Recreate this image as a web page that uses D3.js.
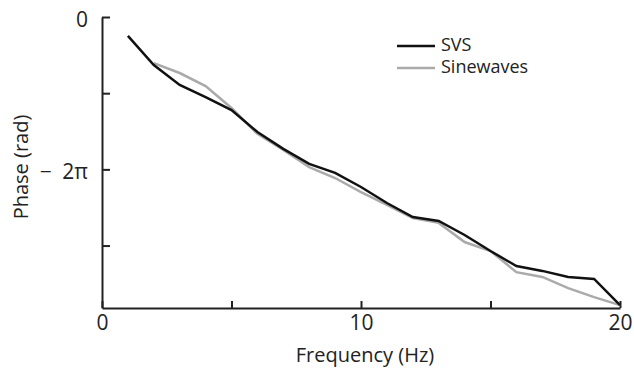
<!DOCTYPE html>
<html>
<head>
<meta charset="UTF-8">
<title>Phase vs frequency</title>
<style>
  body { margin: 0; background: #fff; }
  text { font-family: "Open Sans", "Noto Sans", sans-serif; fill: #222; }
</style>
</head>
<body>
<script src="https://cdnjs.cloudflare.com/ajax/libs/d3/7.8.5/d3.min.js"></script>
<script>
// data (phase in rad)
var freq = [1,2,3,4,5,6,7,8,9,10,11,12,13,14,15,16,17,18,19,20];
var svs = [-0.78,-1.98,-2.80,-3.30,-3.84,-4.74,-5.44,-6.06,-6.43,-7.01,
           -7.67,-8.25,-8.41,-8.99,-9.65,-10.27,-10.47,-10.72,-10.80,-11.88];
var sineFreq = [2,3,4,5,6,7,8,9,10,11,12,13,14,15,16,17,18,19,20];
var sine = [-1.90,-2.31,-2.85,-3.75,-4.82,-5.48,-6.19,-6.64,-7.22,-7.75,
            -8.29,-8.49,-9.28,-9.65,-10.52,-10.72,-11.18,-11.55,-11.88];
var xTicks = [0,5,10,15,20];
var xLabels = {0:"0", 10:"10", 20:"20"};
var yTicks = [0,-Math.PI,-2*Math.PI,-3*Math.PI];
var yLabels = ["0", "", "\u2212\u20022\u03c0", ""];

var W = 634, H = 370;
var svg = d3.select("body").append("svg").attr("width", W).attr("height", H);

var x = d3.scaleLinear().domain([0,20]).range([102,620]);
var y = d3.scaleLinear().domain([-12,0]).range([308,17]);

//axes, ticks pointing inward
var xAxis = svg.append("g").attr("transform", "translate(0," + y(-12) + ")")
  .call(d3.axisBottom(x).tickValues(xTicks).tickSizeInner(-7).tickSizeOuter(0)
    .tickFormat(d => xLabels[d] || ""));
var yAxis = svg.append("g").attr("transform", "translate(" + x(0) + ",0)")
  .call(d3.axisLeft(y).tickValues(yTicks).tickSizeInner(-8).tickSizeOuter(0)
    .tickFormat((d,i) => yLabels[i]));

[xAxis, yAxis].forEach(g => {
  g.attr("font-size", 21);
  g.select(".domain").attr("stroke", "#222").attr("stroke-width", 2);
  g.selectAll(".tick line").attr("stroke", "#222").attr("stroke-width", 2);
  g.selectAll(".tick text").attr("fill", "#222")
    .style("font-family", "'Open Sans', sans-serif");
});
xAxis.selectAll(".tick text").attr("y", 22).attr("dy", 0);
yAxis.selectAll(".tick text").attr("x", -14).attr("dy", "0.45em");

//lines
var line = d3.line().x(d => x(d[0])).y(d => y(d[1]));
svg.append("path").datum(sineFreq.map((f,i) => [f, sine[i]]))
  .attr("d", line).attr("fill", "none").attr("stroke", "#aaa").attr("stroke-width", 2.5);
svg.append("path").datum(freq.map((f,i) => [f, svs[i]]))
  .attr("d", line).attr("fill", "none").attr("stroke", "#111").attr("stroke-width", 2.5);

//axis titles
svg.append("text").attr("x", 365).attr("y", 362).attr("text-anchor", "middle")
  .attr("font-size", 20).text("Frequency (Hz)");
svg.append("text").attr("transform", "translate(28,167) rotate(-90)")
  .attr("text-anchor", "middle").attr("font-size", 20).text("Phase (rad)");

//legend
var legend = [["SVS", "#111"], ["Sinewaves", "#aaa"]];
legend.forEach((d,i) => {
  var ly = 46 + i * 22;
  svg.append("line").attr("x1", 397).attr("x2", 435).attr("y1", ly).attr("y2", ly)
    .attr("stroke", d[1]).attr("stroke-width", 2.5);
  svg.append("text").attr("x", 441).attr("y", ly + 5).attr("font-size", 18).text(d[0]);
});
</script>
</body>
</html>
